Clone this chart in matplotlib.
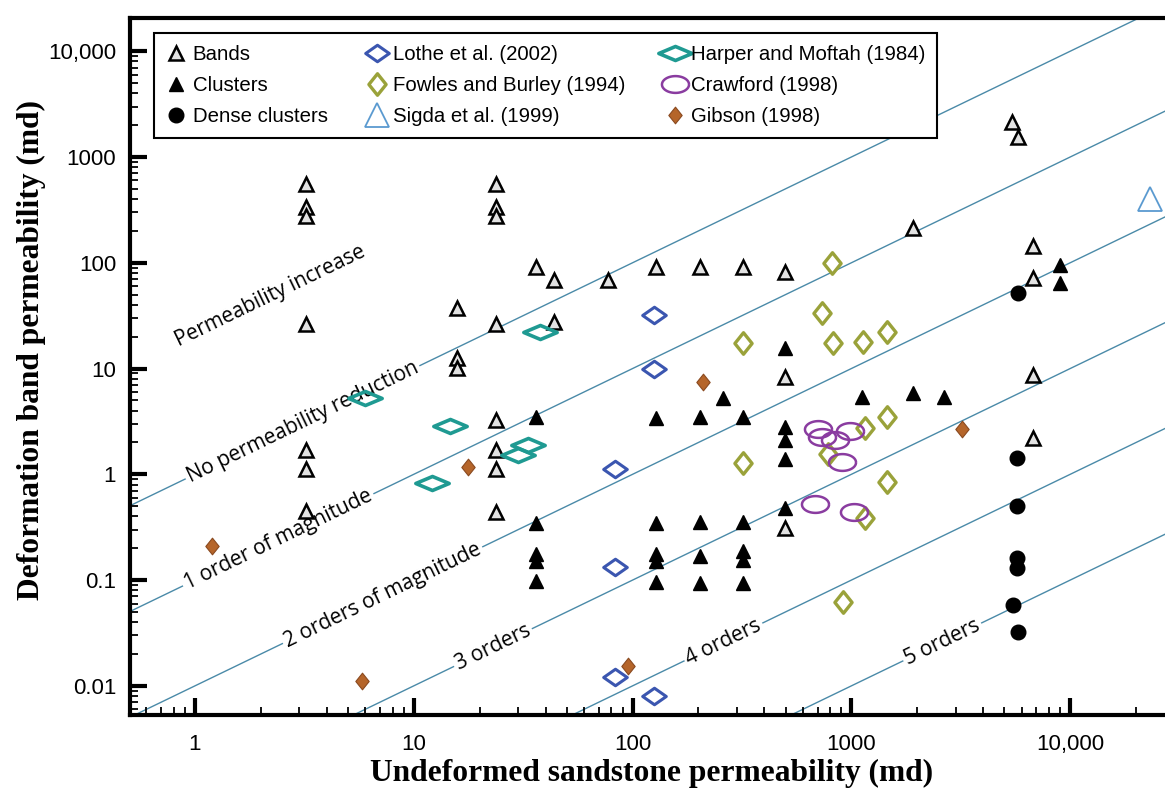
import numpy as np
import matplotlib
matplotlib.use("Agg")
import matplotlib.pyplot as plt
from matplotlib.path import Path
from matplotlib.ticker import FixedLocator, FixedFormatter, LogLocator, NullFormatter

# ---------------- data ----------------
bands_x = [3.2, 3.2, 3.2, 3.2, 3.2, 3.2, 3.2,
           23.7, 23.7, 23.7, 23.7, 23.7, 23.7, 23.7, 23.7,
           15.7, 15.7, 15.7, 36, 43.5, 43.5, 77,
           128, 203, 321, 497, 497, 497,
           1920, 5400, 5800, 6730, 6730, 6780, 6780]
bands_y = [560, 340, 275, 26.5, 1.7, 1.12, 0.45,
           560, 340, 275, 26.5, 3.25, 1.7, 1.12, 0.44,
           37, 12.5, 10.1, 92, 69, 27.5, 69,
           92, 92, 92, 82, 8.4, 0.31,
           215, 2160, 1560, 143, 71, 8.7, 2.19]

clusters_x = [36.2, 36.2, 36.2, 36.2, 36.2,
              128, 128, 128, 128, 128,
              203, 203, 203, 203,
              258,
              321, 321, 321, 321, 321,
              497, 497, 497, 497, 497,
              1113, 1905, 2650, 8980, 8980]
clusters_y = [3.5, 0.345, 0.177, 0.15, 0.097,
              3.4, 0.35, 0.175, 0.15, 0.095,
              3.5, 0.357, 0.17, 0.094,
              5.24,
              3.5, 0.357, 0.19, 0.155, 0.0935,
              15.5, 2.83, 2.11, 1.39, 0.479,
              5.42, 5.92, 5.36, 95.3, 64.8]

dense_x = [5790, 5730, 5730, 5730, 5730, 5500, 5790]
dense_y = [51.5, 1.42, 0.506, 0.162, 0.13, 0.0583, 0.0326]

lothe_x = [83, 83, 83, 125, 125, 125]
lothe_y = [1.12, 0.134, 0.0122, 32, 10, 0.008]

fowles_x = [812, 731, 321, 821, 1133, 1449, 1449, 1153, 321, 784, 1449, 1153, 912]
fowles_y = [99, 33.7, 17.3, 17.5, 17.7, 22.3, 3.47, 2.73, 1.27, 1.56, 0.853, 0.385, 0.0627]

sigda_x = [23200]
sigda_y = [398]

harper_x = [37.7, 14.6, 5.98, 33.3, 29.9, 12.1]
harper_y = [22.3, 2.86, 5.27, 1.9, 1.52, 0.82]

crawford_x = [706, 731, 986, 841, 903, 682, 1028]
crawford_y = [2.67, 2.27, 2.59, 2.11, 1.30, 0.525, 0.443]

gibson_x = [1.2, 5.78, 17.6, 210, 3190, 95]
gibson_y = [0.212, 0.011, 1.17, 7.53, 2.67, 0.0155]

orders = [0, 1, 2, 3, 4, 5]
order_labels = ["No permeability reduction", "1 order of magnitude",
                "2 orders of magnitude", "3 orders", "4 orders", "5 orders"]
order_label_x = [3.1, 2.4, 7.2, 23, 260, 2600]

xticks = [1, 10, 100, 1000, 10000]
xticklabels = ["1", "10", "100", "1000", "10,000"]
yticks = [0.01, 0.1, 1, 10, 100, 1000, 10000]
yticklabels = ["0.01", "0.1", "1", "10", "100", "1000", "10,000"]

# ---------------- figure ----------------
W, H = 1165, 792
fig = plt.figure(figsize=(W / 100, H / 100), dpi=100)
ax = fig.add_axes([130 / W, (H - 715) / H, (W - 130) / W, (715 - 18) / H])
ax.set_xscale("log")
ax.set_yscale("log")
XMIN, XMAX = 0.5046, 27100
ax.set_xlim(XMIN, XMAX)
ax.set_ylim(0.0053, 20600)

# custom markers
def diamond(w, h):
    return Path([(-w, 0), (0, h), (w, 0), (0, -h), (-w, 0)],
                [Path.MOVETO, Path.LINETO, Path.LINETO, Path.LINETO, Path.CLOSEPOLY])

t = np.linspace(0, 2 * np.pi, 60)
ellipse = Path(np.column_stack([np.cos(t), 0.62 * np.sin(t)]))

line_color = "#4a8aa8"
lbl_font = "Open Sans"

# reference lines
angle_p1 = ax.transData.transform((1, 1))
angle_p2 = ax.transData.transform((10, 10))
angle = np.degrees(np.arctan2(angle_p2[1] - angle_p1[1], angle_p2[0] - angle_p1[0]))
for k, lab, lx in zip(orders, order_labels, order_label_x):
    xs = np.array([XMIN, XMAX])
    ax.plot(xs, xs / 10 ** k, color=line_color, lw=1.0, zorder=1)
    ax.text(lx, lx / 10 ** k, lab, rotation=angle, rotation_mode="anchor",
            ha="center", va="center", fontsize=15, family=lbl_font, zorder=2,
            bbox=dict(boxstyle="square,pad=0.12", fc="white", ec="none"))
ax.text(2.2, 48, "Permeability increase", rotation=angle, rotation_mode="anchor",
        ha="center", va="center", fontsize=15, family=lbl_font, zorder=2)

# data series
h_bands, = ax.plot(bands_x, bands_y, ls="none", marker="^", ms=10.5, mfc="#e2e2e2",
                   mec="black", mew=1.8, zorder=3, label="Bands")
h_clu, = ax.plot(clusters_x, clusters_y, ls="none", marker="^", ms=10.5, mfc="black",
                 mec="black", mew=1.0, zorder=3, label="Clusters")
h_den, = ax.plot(dense_x, dense_y, ls="none", marker="o", ms=10.5, mfc="black",
                 mec="black", mew=1.0, zorder=3, label="Dense clusters")
h_lothe, = ax.plot(lothe_x, lothe_y, ls="none", marker=diamond(1, 0.7), ms=17, mfc="none",
                   mec="#3b56b0", mew=2.2, zorder=3, label="Lothe et al. (2002)")
h_fow, = ax.plot(fowles_x, fowles_y, ls="none", marker=diamond(0.8, 1), ms=15.5, mfc="white",
                 mec="#9aa23a", mew=2.4, zorder=3, label="Fowles and Burley (1994)")
h_sig, = ax.plot(sigda_x, sigda_y, ls="none", marker="^", ms=17, mfc="white",
                 mec="#5a9ad0", mew=1.3, zorder=3, label="Sigda et al. (1999)")
h_har, = ax.plot(harper_x, harper_y, ls="none", marker=diamond(1, 0.42), ms=24, mfc="none",
                 mec="#1f9a92", mew=2.6, zorder=3, label="Harper and Moftah (1984)")
h_cra, = ax.plot(crawford_x, crawford_y, ls="none", marker=ellipse, ms=19.5, mfc="none",
                 mec="#8a3ca0", mew=1.8, zorder=4, label="Crawford (1998)")
h_gib, = ax.plot(gibson_x, gibson_y, ls="none", marker=diamond(0.8, 1), ms=12, mfc="#b5652a",
                 mec="#8a4a20", mew=0.8, zorder=4, label="Gibson (1998)")

handles = [h_bands, h_clu, h_den, h_lothe, h_fow, h_sig, h_har, h_cra, h_gib]
leg = ax.legend(handles=handles, ncol=3, loc="upper left",
                bbox_to_anchor=((154 - 130) / 1035, (715 - 33) / 697), borderaxespad=0,
                prop={"family": "Liberation Sans", "size": 14.7}, frameon=True, fancybox=False,
                edgecolor="black", framealpha=1, handlelength=1.0, handletextpad=0.3,
                columnspacing=1.9, labelspacing=0.58, borderpad=0.6, numpoints=1)
leg.get_frame().set_linewidth(1.5)
leg.set_zorder(10)

# axes styling
for s in ["left", "bottom", "top"]:
    ax.spines[s].set_linewidth(3)
    ax.spines[s].set_color("black")
ax.spines["right"].set_visible(False)

ax.xaxis.set_major_locator(FixedLocator(xticks))
ax.xaxis.set_major_formatter(FixedFormatter(xticklabels))
ax.yaxis.set_major_locator(FixedLocator(yticks))
ax.yaxis.set_major_formatter(FixedFormatter(yticklabels))
ax.xaxis.set_minor_locator(LogLocator(base=10, subs=np.arange(2, 10), numticks=20))
ax.yaxis.set_minor_locator(LogLocator(base=10, subs=np.arange(2, 10), numticks=20))
ax.xaxis.set_minor_formatter(NullFormatter())
ax.yaxis.set_minor_formatter(NullFormatter())
ax.tick_params(which="major", direction="in", length=12, width=3, top=False, right=False,
               labelsize=16, pad=10)
ax.tick_params(which="minor", direction="in", length=6, width=1.3, top=False, right=False)
ax.tick_params(axis="x", which="major", pad=14)
for lab in ax.get_xticklabels() + ax.get_yticklabels():
    lab.set_family("Liberation Sans")

ax.set_xlabel("Undeformed sandstone permeability (md)", family="Liberation Serif",
              fontweight="bold", fontsize=22.7, va="center")
ax.set_ylabel("Deformation band permeability (md)", family="Liberation Serif",
              fontweight="bold", fontsize=22.7, va="center")
ax.xaxis.set_label_coords((652 - 130) / 1035, (715 - 773) / 697)
ax.yaxis.set_label_coords((31 - 130) / 1035, (715 - 350) / 697)

fig.savefig("out.png", dpi=100)
